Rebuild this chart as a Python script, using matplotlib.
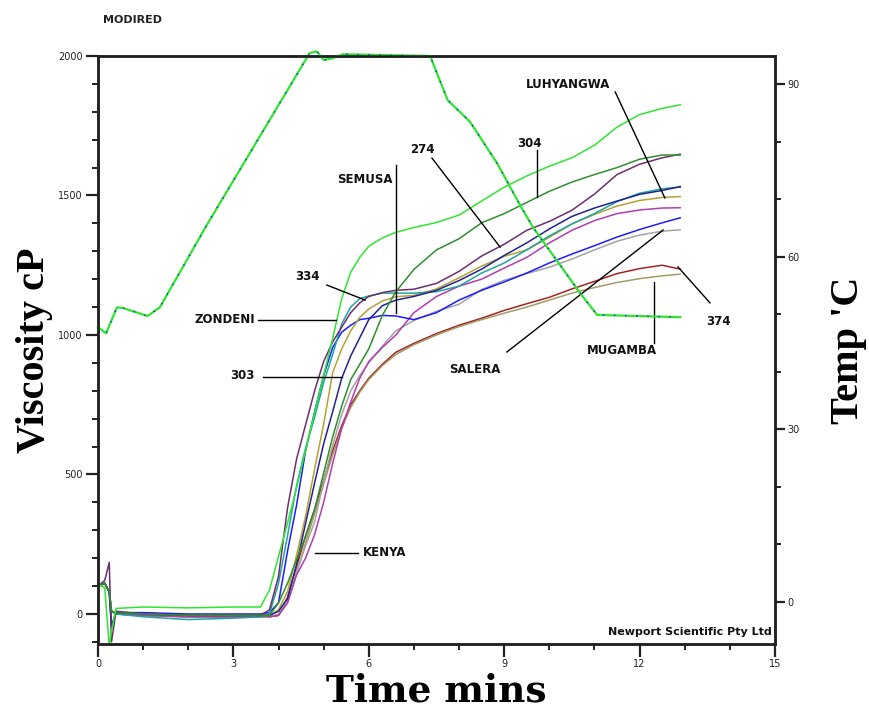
import numpy as np
import matplotlib.pyplot as plt
from matplotlib.ticker import MultipleLocator

# common time grid (min) at which the viscosity curves were read
t = [0, 0.15, 0.25, 0.3, 0.4, 1, 2, 3, 3.6, 3.8, 4.0, 4.2, 4.4, 4.6, 4.8, 5.0,
     5.2, 5.4, 5.6, 5.8, 6.0, 6.3, 6.6, 7.0, 7.5, 8.0, 8.5, 9.0, 9.5, 10.0,
     10.5, 11.0, 11.5, 12.0, 12.5, 12.9]

# viscosity (cP) per sample
zondeni = [105, 95, -115, -60, 20, 25, 22, 25, 25, 86, 206, 326, 452, 587, 722, 856,
           988, 1130, 1225, 1278, 1318, 1348, 1368, 1385, 1403, 1430, 1480, 1530,
           1570, 1605, 1635, 1680, 1745, 1790, 1812, 1825]
s304 = [100, 110, 80, 10, 5, 0, -5, -5, -5, -5, 40, 110, 195, 278, 375, 505,
        635, 745, 840, 895, 950, 1070, 1155, 1235, 1305, 1345, 1402, 1435,
        1475, 1515, 1548, 1575, 1600, 1630, 1645, 1645]
s274 = [100, 120, 185, -100, 10, 0, -5, -5, -5, 15, 135, 380, 555, 678, 800, 905,
        975, 1028, 1080, 1115, 1138, 1152, 1160, 1164, 1185, 1228, 1283, 1325,
        1375, 1407, 1447, 1505, 1575, 1612, 1635, 1648]
s303 = [100, 110, 80, -50, 5, 0, -5, -5, -5, -5, 10, 55, 178, 325, 470, 610,
        725, 845, 925, 990, 1055, 1105, 1125, 1138, 1160, 1195, 1236, 1285,
        1330, 1380, 1425, 1455, 1480, 1504, 1518, 1532]
s334 = [100, 110, 80, 10, 0, -10, -20, -15, -10, 0, 110, 280, 460, 595, 705, 830,
        930, 1040, 1100, 1130, 1140, 1150, 1150, 1150, 1155, 1175, 1222, 1258,
        1305, 1355, 1398, 1435, 1478, 1508, 1524, 1530]
luhyangwa = [100, 110, 80, 10, 5, 0, -5, -5, -5, -5, 15, 80, 210, 350, 520, 680,
             865, 950, 1015, 1063, 1093, 1122, 1137, 1142, 1165, 1205, 1247, 1282,
             1305, 1350, 1398, 1432, 1462, 1482, 1493, 1496]
kenya = [100, 110, 80, 10, 0, -5, -10, -10, -5, -10, -5, 40, 140, 200, 285, 400,
         540, 665, 760, 845, 905, 955, 1000, 1080, 1138, 1175, 1200, 1240,
         1278, 1330, 1375, 1410, 1435, 1448, 1455, 1456]
semusa = [100, 110, 80, -40, 5, 5, 0, 0, 0, 5, 40, 225, 390, 585, 725, 855,
          955, 1010, 1035, 1055, 1060, 1070, 1068, 1055, 1080, 1125, 1160, 1190,
          1222, 1258, 1290, 1320, 1351, 1378, 1402, 1420]
salera = [100, 110, 80, 10, 0, -5, -10, -10, -10, -10, 0, 55, 150, 245, 330, 475,
          605, 715, 800, 855, 900, 960, 1015, 1052, 1085, 1110, 1163, 1196,
          1220, 1243, 1272, 1305, 1336, 1358, 1372, 1377]
s374 = [100, 110, 80, 10, 0, -5, -10, -10, -10, -10, -5, 60, 170, 280, 375, 480,
        585, 675, 750, 800, 845, 895, 938, 970, 1005, 1035, 1060, 1088,
        1112, 1135, 1165, 1192, 1220, 1238, 1250, 1236]
mugamba = [100, 110, 80, 10, 0, -5, -10, -10, -10, -10, -5, 40, 145, 255, 360, 465,
           570, 665, 740, 795, 840, 890, 930, 965, 1000, 1030, 1055, 1078,
           1100, 1125, 1150, 1170, 1188, 1202, 1212, 1218]

# temperature profile
temp_t = [0, 0.18, 0.42, 0.55, 1.1, 1.37, 2.41, 4.69, 4.85, 5.0, 5.2, 5.43, 7.36,
          7.51, 7.75, 8.24, 8.84, 9.35, 9.64, 10.61, 10.75, 11.06, 12.9]
temp_v = [47.8, 46.7, 51.2, 51.1, 49.7, 51.2, 65.5, 95.4, 95.7, 94.2, 94.5, 95.2, 94.9,
          91.9, 87.2, 83.5, 76.3, 69.0, 65.1, 54.5, 53.0, 49.9, 49.5]

curves = [
    (s374, '#a52222'), (mugamba, '#a29c62'), (salera, '#a3a3a3'),
    (kenya, '#b23cb2'), (semusa, '#1c1cff'), (luhyangwa, '#b4a232'),
    (s334, '#1fa3a3'), (s303, '#22228f'), (s274, '#6e2e6e'),
    (s304, '#2f8f2f'), (zondeni, '#2ee62e'),
]

# label text, text position, leader start, leader end (t, cP)
labels = [
    ('LUHYANGWA', (10.41, 1896), (11.46, 1871), (12.56, 1491)),
    ('304', (9.57, 1688), (9.73, 1663), (9.73, 1495)),
    ('274', (7.18, 1663), (7.40, 1634), (8.91, 1315)),
    ('SEMUSA', (5.92, 1556), (6.60, 1609), (6.60, 1079)),
    ('334', (4.65, 1208), (5.07, 1179), (5.92, 1125)),
    ('ZONDENI', (2.81, 1054), (3.55, 1054), (5.27, 1054)),
    ('303', (3.21, 853), (3.66, 849), (5.41, 849)),
    ('KENYA', (6.36, 219), (4.81, 219), (5.76, 219)),
    ('SALERA', (8.35, 875), (9.06, 939), (12.52, 1376)),
    ('MUGAMBA', (11.61, 943), (12.32, 971), (12.32, 1190)),
    ('374', (13.74, 1047), (13.56, 1115), (12.85, 1244)),
]

fig = plt.figure(figsize=(8.7, 7.13), dpi=100)
ax = fig.add_axes([0.1126, 0.0968, 0.7782, 0.8247])
ax2 = ax.twinx()
ax2.set_position(ax.get_position())

for vals, col in curves:
    ax.plot(t, vals, color=col, lw=1.1)

ax2.plot(temp_t, temp_v, color='#2ee62e', lw=1.6, clip_on=False)
ax2.plot(temp_t, temp_v, color='#2222dd', lw=1.0, ls=(0, (1, 7)), clip_on=False)

for name, pos, p0, p1 in labels:
    ax.plot([p0[0], p1[0]], [p0[1], p1[1]], color='black', lw=1.0, clip_on=False)
    ax.text(pos[0], pos[1], name, ha='center', va='center', fontsize=8.5,
            fontweight='bold', color='#111111', family='DejaVu Sans')

ax.set_xlim(0, 15)
ax.set_ylim(-107.5, 2000)
ax2.set_ylim(-7.3, 94.9)

ax.xaxis.set_major_locator(MultipleLocator(3))
ax.xaxis.set_minor_locator(MultipleLocator(1))
ax.yaxis.set_major_locator(MultipleLocator(500))
ax.yaxis.set_minor_locator(MultipleLocator(100))
ax2.yaxis.set_major_locator(MultipleLocator(30))
ax2.yaxis.set_minor_locator(MultipleLocator(10))
ax.set_yticks([0, 500, 1000, 1500, 2000])
ax2.set_yticks([0, 30, 60, 90])

for a in (ax, ax2):
    for sp in a.spines.values():
        sp.set_linewidth(1.8)
        sp.set_color('#222222')
ax.tick_params(axis='both', which='major', direction='out', length=9, width=1.6,
               labelsize=7, colors='#222222', pad=2)
ax.tick_params(axis='both', which='minor', direction='out', length=4.5, width=1.4,
               colors='#222222')
ax2.tick_params(axis='y', which='major', direction='out', length=7, width=1.6,
                labelsize=7, colors='#222222', pad=2)
ax2.tick_params(axis='y', which='minor', direction='out', length=4.5, width=1.4,
                colors='#222222')

ax.set_xlabel('Time mins', family='DejaVu Serif', fontsize=27, fontweight='bold',
              labelpad=2)
ax.set_ylabel('Viscosity cP', family='Liberation Serif', fontsize=29, fontweight='bold',
              labelpad=4)
ax2.set_ylabel("Temp 'C", family='Liberation Serif', fontsize=29, fontweight='bold',
               labelpad=22)

fig.text(0.118, 0.972, 'MODIRED', fontsize=8, fontweight='bold', color='#222222',
         va='center')
ax.text(0.995, 0.012, 'Newport Scientific Pty Ltd', transform=ax.transAxes,
        ha='right', va='bottom', fontsize=8, fontweight='bold', color='#111111')

fig.savefig('out.png', dpi=100)
